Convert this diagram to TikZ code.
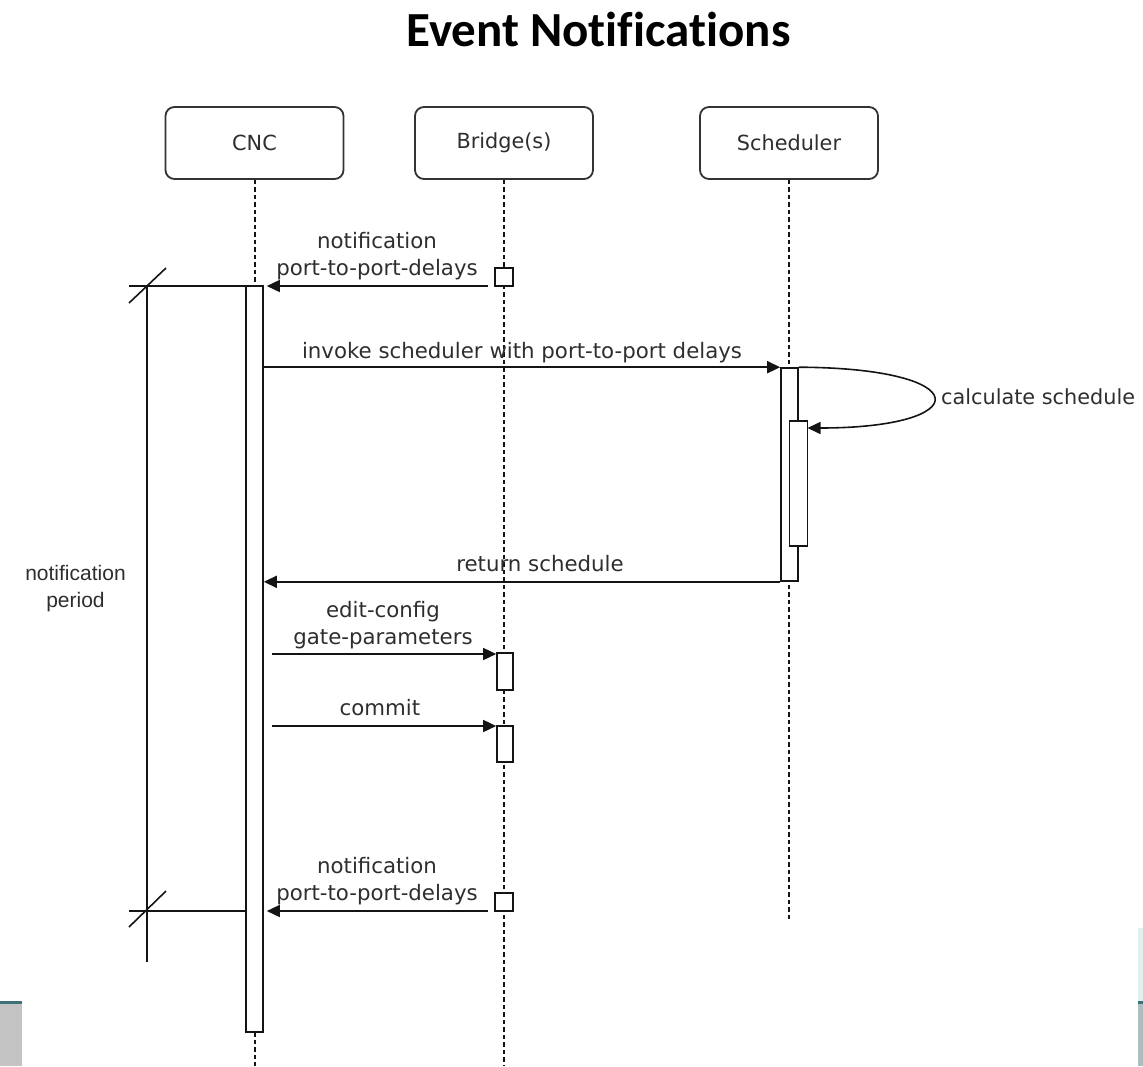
\documentclass[tikz,border=0pt]{standalone}
\usepackage{fontspec}
\setmainfont{DejaVu Sans}
\newfontfamily\titlefont{Carlito}[Ligatures=NoCommon]
\newfontfamily\notefont{Liberation Sans}
\usetikzlibrary{arrows.meta,calc}
\definecolor{txtgray}{HTML}{2E2E2E}
\definecolor{linegray}{HTML}{141414}
\definecolor{boxgray}{HTML}{333333}
\definecolor{tealband}{HTML}{3D7378}
\definecolor{sidegray}{HTML}{C3C3C3}
\definecolor{sidegreen}{HTML}{AEBDBD}
\definecolor{sidepale}{HTML}{E2EFEF}
\begin{document}
\begin{tikzpicture}[x=1pt,y=-1pt,
  lbl/.style={font=\fontsize{21.3}{27}\selectfont, text=txtgray, inner sep=0pt},
  head/.style={font=\fontsize{20.8}{27}\selectfont, text=txtgray, inner sep=0pt,
    draw=boxgray, line width=1.8pt, rounded corners=9pt,
    minimum width=178pt, minimum height=72pt},
  bar/.style={draw=linegray, fill=white, line width=1.6pt, inner sep=0pt},
  life/.style={draw=linegray, line width=1.6pt, dash pattern=on 4.5pt off 3pt},
  msg/.style={draw=linegray, line width=1.6pt, -{Triangle[length=13pt,width=12pt]}},
  brk/.style={draw=linegray, line width=1.6pt},
  msgtext/.style={lbl, anchor=base, align=center}]
\useasboundingbox (0,0) rectangle (1143,1066);

% title
\node[anchor=base, inner sep=0pt, font=\titlefont\bfseries\fontsize{49}{55}\selectfont]
  (title) at (598.5,46) {Event Notifications};

% participants
\node[head] (cnc) at (254.5,143) {CNC};
\node[head] (brg) at (504,143) {Bridge(s)};
\node[head] (sch) at (789,143) {Scheduler};

% lifelines
\coordinate (cncend) at (255,1066);
\coordinate (brgend) at (504,1066);
\coordinate (schend) at (789,920);
\draw[life] (cnc.south -| 255,0) -- (255,286);
\draw[life] (255,1032) -- (cncend);
\draw[life] (brg.south) -- (brgend);
\draw[life] (sch.south -| 789,0) -- (schend);

% activation bars and event points
\node[bar, minimum width=17pt, minimum height=746pt] (cncbar) at (254.5,659) {};
\node[bar, minimum width=17pt, minimum height=213pt] (schbar) at (789.5,474.5) {};
\node[bar, minimum width=18pt, minimum height=125pt] (schnest) at (798.5,483.5) {};
\node[bar, minimum width=16pt, minimum height=37pt] (brbar1) at (505,671.5) {};
\node[bar, minimum width=16pt, minimum height=36pt] (brbar2) at (505,744) {};
\node[bar, minimum width=18pt, minimum height=18pt] (evt1) at (504,277) {};
\node[bar, minimum width=18pt, minimum height=18pt] (evt2) at (504,902) {};

% messages
\coordinate (m1s) at (488,286);
\draw[msg, shorten >=3pt] (m1s) -- (cncbar.east |- m1s);
\node[msgtext] (m1a) at (377,248) {notification};
\node[msgtext] (m1b) at (377,275) {port-to-port-delays};

\draw[msg] (cncbar.east |- schbar.north) -- (schbar.north west);
\node[msgtext] (m2) at (522,358) {invoke scheduler with port-to-port delays};

\coordinate (loopend) at (807.5,428);
\draw[msg] (schbar.north east) .. controls (977,368) and (977,428) .. (loopend);
\node[lbl, anchor=west, font=\fontsize{20.8}{27}\selectfont] (m3) at (941,397) {calculate schedule};

\draw[msg] (schbar.south west) -- (cncbar.east |- schbar.south);
\node[msgtext] (m4) at (540,571) {return schedule};

\coordinate (m5s) at (272,654);
\draw[msg] (m5s) -- (m5s -| brbar1.west);
\node[msgtext] (m5a) at (383,617) {edit-config};
\node[msgtext] (m5b) at (383,644) {gate-parameters};

\coordinate (m6s) at (272,726);
\draw[msg] (m6s) -- (m6s -| brbar2.west);
\node[msgtext] (m6) at (380,715) {commit};

\coordinate (m7s) at (488,911);
\draw[msg, shorten >=3pt] (m7s) -- (cncbar.east |- m7s);
\node[msgtext] (m7a) at (377,873) {notification};
\node[msgtext] (m7b) at (377,900) {port-to-port-delays};

% notification period bracket
\coordinate (ptop) at (147,286);
\coordinate (pbot) at (147,962);
\draw[brk] (ptop) -- (pbot);
\coordinate (t1l) at (129,286);
\coordinate (t2l) at (129,911);
\draw[brk] (t1l) -- (cncbar.west |- t1l);
\draw[brk] (t2l) -- (cncbar.west |- t2l);
\draw[brk] (129,303) -- (166,268);
\draw[brk] (129,927) -- (166,891);
\node[inner sep=0pt, align=center, text=txtgray,
  font=\notefont\fontsize{21}{27}\selectfont] (period) at (75.5,589) {notification\\period};

% slide frame remnants at the lower corners
\fill[sidegray] (0,1004) rectangle (22,1066);
\fill[tealband] (0,1001) rectangle (22,1004);
\fill[sidepale] (1138,928) rectangle (1143,1001);
\fill[tealband] (1138,1001) rectangle (1143,1004);
\fill[sidegreen] (1138,1004) rectangle (1143,1066);
\end{tikzpicture}
\end{document}
